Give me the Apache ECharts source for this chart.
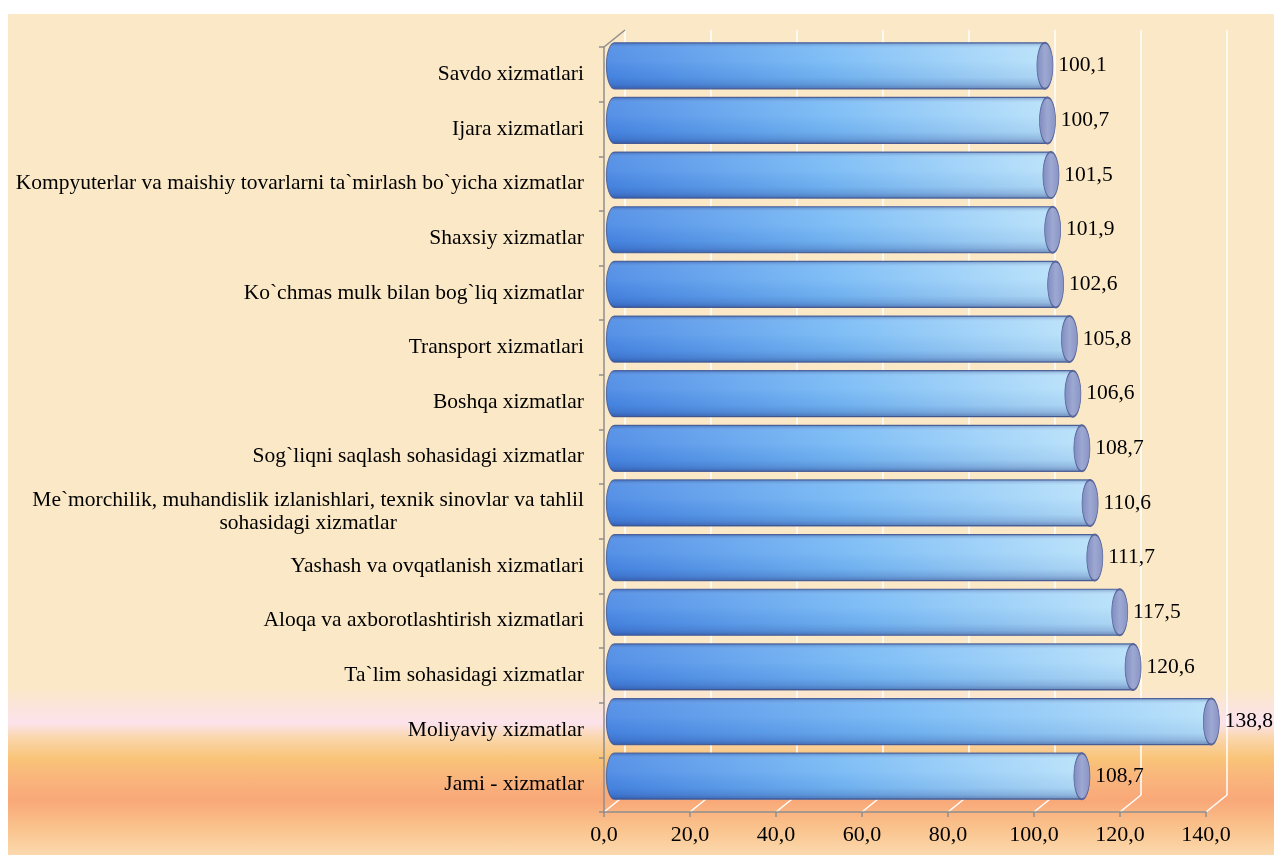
<!DOCTYPE html>
<html><head><meta charset="utf-8">
<script src="https://cdn.jsdelivr.net/npm/echarts@6/dist/echarts.min.js"></script>
<style>
html,body{margin:0;padding:0;background:#fff;width:1274px;height:855px;overflow:hidden}
#bg{position:absolute;left:8px;top:14px;right:0;bottom:0;
background:linear-gradient(to bottom,#FAE8C6 0%,#FAE8C6 80%,#FBE5D8 82%,#FCE3EC 84.3%,#FAD7AE 86%,#F9C478 88.5%,#F9B47C 91%,#F9A878 93.5%,#FAC48E 97%,#FBD9AE 100%);}
#chart{position:absolute;left:0;top:0;width:1274px;height:855px}
</style></head>
<body><div id="bg"></div><div id="chart"></div>
<script>
const categories = [
  'Savdo xizmatlari',
  'Ijara xizmatlari',
  'Kompyuterlar va maishiy tovarlarni ta`mirlash bo`yicha xizmatlar',
  'Shaxsiy xizmatlar',
  'Ko`chmas mulk bilan bog`liq xizmatlar',
  'Transport xizmatlari',
  'Boshqa xizmatlar',
  'Sog`liqni saqlash sohasidagi xizmatlar',
  'Me`morchilik, muhandislik izlanishlari, texnik sinovlar va tahlil\nsohasidagi xizmatlar',
  'Yashash va ovqatlanish xizmatlari',
  'Aloqa va axborotlashtirish xizmatlari',
  'Ta`lim sohasidagi xizmatlar',
  'Moliyaviy xizmatlar',
  'Jami - xizmatlar'
];
const values = [100.1, 100.7, 101.5, 101.9, 102.6, 105.8, 106.6, 108.7, 110.6, 111.7, 117.5, 120.6, 138.8, 108.7];
const xTicks = [0, 20, 40, 60, 80, 100, 120, 140];

const W = 1274, H = 855;
const FONT = "'Liberation Serif','Times New Roman',serif";
const FRONT = {left: 604, right: 68, top: 47, bottom: 43};
const DEPTH_X = 21, DEPTH_Y = 17;
const MID = {left: FRONT.left + DEPTH_X/2, right: FRONT.right - DEPTH_X/2, top: FRONT.top - DEPTH_Y/2, bottom: FRONT.bottom + DEPTH_Y/2};
const BACK = {left: FRONT.left + DEPTH_X, right: FRONT.right - DEPTH_X, top: FRONT.top - DEPTH_Y, bottom: FRONT.bottom + DEPTH_Y};
const fmt = v => v.toFixed(1).replace('.', ',');
const xMin = xTicks[0], xMax = xTicks[xTicks.length-1], xInt = xTicks[1]-xTicks[0];
const BAR_W = 46, CAP_RX = 8;

function renderCylinder(params, api) {
  const idx = api.value(1);
  const p0 = api.coord([0, idx]);
  const p1 = api.coord([api.value(0), idx]);
  const y0 = p0[1] - BAR_W / 2, y1 = p0[1] + BAR_W / 2;
  const d = 'M' + p1[0] + ',' + y0 + ' L' + p0[0] + ',' + y0 +
            ' A' + CAP_RX + ',' + (BAR_W / 2) + ' 0 0 0 ' + p0[0] + ',' + y1 +
            ' L' + p1[0] + ',' + y1 + ' Z';
  return {
    type: 'group',
    children: [
      {type: 'path', shape: {pathData: d},
       style: {
         fill: new echarts.graphic.LinearGradient(0, 0, 1, 0, [
           {offset: 0, color: '#4787E4'}, {offset: 0.5, color: '#74B8F5'}, {offset: 1, color: '#B6E0FA'}
         ]),
         stroke: '#56699C', lineWidth: 1.2
       }},
      {type: 'path', shape: {pathData: d},
       style: {
         fill: new echarts.graphic.LinearGradient(0, 0, 0, 1, [
           {offset: 0, color: 'rgba(40,60,130,0.35)'},
           {offset: 0.12, color: 'rgba(255,255,255,0.10)'},
           {offset: 0.4, color: 'rgba(255,255,255,0.08)'},
           {offset: 0.75, color: 'rgba(30,50,130,0.06)'},
           {offset: 0.9, color: 'rgba(30,50,130,0.22)'},
           {offset: 1, color: 'rgba(30,45,110,0.45)'}
         ]),
         stroke: null
       }}
    ]
  };
}

const option = {
  animation: false,
  backgroundColor: 'transparent',
  grid: [
    Object.assign({}, FRONT, {containLabel: false}),
    Object.assign({}, MID, {containLabel: false}),
    Object.assign({}, BACK, {containLabel: false})
  ],
  xAxis: [
    {gridIndex: 0, type: 'value', min: xMin, max: xMax, interval: xInt, z: 6,
     axisLine: {show: true, lineStyle: {color: '#8E8E8E', width: 1.5}},
     axisTick: {show: true, length: 5, lineStyle: {color: '#8E8E8E', width: 1.5}},
     splitLine: {show: false},
     axisLabel: {formatter: v => fmt(v), fontFamily: FONT, fontSize: 22, color: '#000', margin: 12}},
    {gridIndex: 1, type: 'value', min: xMin, max: xMax, interval: xInt, show: false, splitLine: {show: false}},
    {gridIndex: 2, type: 'value', min: xMin, max: xMax, interval: xInt,
     axisLine: {show: false}, axisTick: {show: false}, axisLabel: {show: false},
     splitLine: {show: true, lineStyle: {color: '#FFFFFF', width: 1.5}}}
  ],
  yAxis: [
    {gridIndex: 0, type: 'category', inverse: true, data: categories, z: 6,
     axisLine: {show: true, lineStyle: {color: '#8E8E8E', width: 1.5}},
     axisTick: {show: true, length: 5, lineStyle: {color: '#8E8E8E', width: 1.5}},
     axisLabel: {
       margin: 20, fontFamily: FONT, fontSize: 21.5, color: '#000', lineHeight: 23, align: 'right',
       formatter: function (v) {
         const parts = v.split('\n');
         if (parts.length === 1) return '{a|' + v + '}';
         return '{a|' + parts[0] + '}\n{c|' + parts[1] + '}';
       },
       rich: {
         a: {fontFamily: FONT, fontSize: 21.5, color: '#000', lineHeight: 23, align: 'right'},
         c: {fontFamily: FONT, fontSize: 21.5, color: '#000', lineHeight: 23, align: 'center'}
       }
     }},
    {gridIndex: 1, type: 'category', inverse: true, data: categories, show: false},
    {gridIndex: 2, type: 'category', inverse: true, data: categories, show: false}
  ],
  series: [
    {
      type: 'custom', xAxisIndex: 1, yAxisIndex: 1, z: 3,
      renderItem: renderCylinder,
      encode: {x: 0, y: 1},
      data: values.map((v, i) => [v, i]),
      silent: true
    },
    {
      type: 'scatter', xAxisIndex: 1, yAxisIndex: 1, z: 5,
      data: values.map((v, i) => [v, i]),
      symbol: 'circle', symbolSize: [CAP_RX * 2, BAR_W],
      itemStyle: {
        color: new echarts.graphic.LinearGradient(0, 0, 1, 0, [
          {offset: 0, color: '#7F8BBE'}, {offset: 0.5, color: '#9DA8D2'}, {offset: 1, color: '#8893C4'}
        ]),
        borderColor: '#56649A', borderWidth: 1.2, opacity: 1
      },
      label: {
        show: true, position: 'right', distance: 5,
        formatter: p => fmt(p.value[0]),
        fontFamily: FONT, fontSize: 21.5, color: '#000'
      },
      silent: true
    }
  ]
};

const chart = echarts.init(document.getElementById('chart'), null, {renderer: 'canvas', width: W, height: H});
chart.setOption(option);

const floorY = H - FRONT.bottom;
const els = xTicks.map(v => {
  const x = chart.convertToPixel({xAxisIndex: 0}, v);
  return {type: 'line', z: 1, silent: true,
    shape: {x1: x, y1: floorY, x2: x + DEPTH_X, y2: floorY - DEPTH_Y},
    style: {stroke: '#FFFFFF', lineWidth: 1.5}};
});
els.push({type: 'line', z: 1, silent: true,
  shape: {x1: FRONT.left, y1: FRONT.top, x2: FRONT.left + DEPTH_X, y2: FRONT.top - DEPTH_Y},
  style: {stroke: '#8E8E8E', lineWidth: 1.5}});
chart.setOption({graphic: {elements: els}});
</script>
</body></html>
